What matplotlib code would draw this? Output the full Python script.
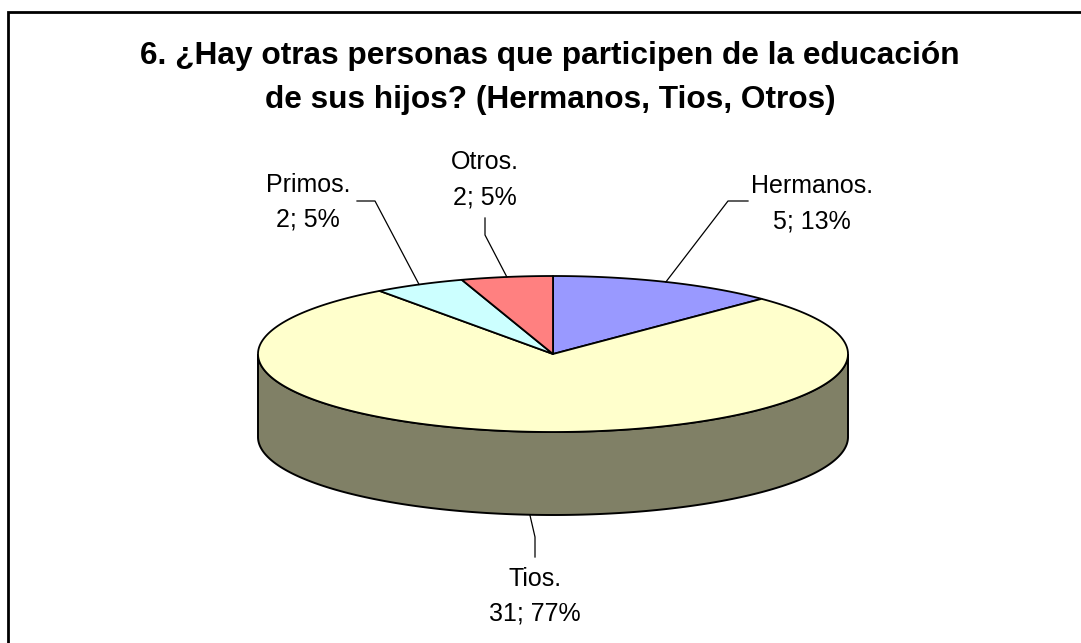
import numpy as np
import matplotlib.pyplot as plt
from matplotlib.patches import Polygon

plt.rcParams['font.family'] = ['Liberation Sans', 'DejaVu Sans']

# data (Excel 3D pie, clockwise from 12 o'clock)
categories = ['Hermanos.', 'Tios.', 'Primos.', 'Otros.']
values = [5, 31, 2, 2]
pct_labels = ['13%', '77%', '5%', '5%']
top_colors = ['#9999FF', '#FFFFCC', '#CCFFFF', '#FF8080']
side_colors = ['#4D4D80', '#808066', '#668080', '#804040']

title_lines = ['6. ¿Hay otras personas que participen de la educación',
               'de sus hijos? (Hermanos, Tios, Otros)']

# layout in pixel coords
W, H = 1081, 643
cx, cy, rx, ry, depth = 553, 354, 295, 78, 83
# label centre x, baseline of first and second line
label_pos = {'Hermanos.': (812, 193, 228), 'Tios.': (535, 586, 620),
             'Primos.': (308, 192, 227), 'Otros.': (485, 169, 204)}
elbow = {'Hermanos.': [(728, 201), (748, 201)],
         'Tios.': [(535, 537), (535, 557)],
         'Primos.': [(375, 201), (357, 201)],
         'Otros.': [(485, 235), (485, 218)]}

fig = plt.figure(figsize=(W / 100, H / 100), dpi=100)
ax = fig.add_axes([0, 0, 1, 1])
ax.set_xlim(0, W)
ax.set_ylim(H, 0)
ax.axis('off')


def ell(theta, dy=0.0):
    # theta in degrees, clockwise from top
    t = np.radians(theta)
    return cx + rx * np.sin(t), cy - ry * np.cos(t) + dy


fracs = np.array(values) / np.sum(values)
starts = np.concatenate([[0], np.cumsum(fracs)[:-1]]) * 360
ends = np.cumsum(fracs) * 360

# side walls (only the front half, 90..270 deg, is visible)
for i in range(len(values)):
    a0, a1 = max(starts[i], 90), min(ends[i], 270)
    if a1 <= a0:
        continue
    th = np.linspace(a0, a1, 200)
    xs, ys = ell(th)
    xb, yb = ell(th[::-1], depth)
    pts = np.column_stack([np.concatenate([xs, xb]), np.concatenate([ys, yb])])
    ax.add_patch(Polygon(pts, closed=True, facecolor=side_colors[i],
                         edgecolor='black', lw=1.4, zorder=1))

# top face slices
for i in range(len(values)):
    th = np.linspace(starts[i], ends[i], 300)
    xs, ys = ell(th)
    pts = np.column_stack([np.concatenate([[cx], xs]), np.concatenate([[cy], ys])])
    ax.add_patch(Polygon(pts, closed=True, facecolor=top_colors[i],
                         edgecolor='black', lw=1.3, joinstyle='round', zorder=2))

# labels and leader lines
for i, name in enumerate(categories):
    mid = (starts[i] + ends[i]) / 2
    if 90 < mid < 270:
        x0, y0 = ell(mid, depth)
    else:
        x0, y0 = ell(mid)
    path = [(x0, y0)] + elbow[name]
    ax.plot([p[0] for p in path], [p[1] for p in path], color='black', lw=0.9, zorder=3)
    lx, b1, b2 = label_pos[name]
    ax.text(lx, b1, name, ha='center', va='baseline', fontsize=18, zorder=4)
    ax.text(lx, b2, f'{values[i]}; {pct_labels[i]}', ha='center', va='baseline',
            fontsize=18, zorder=4)

ax.text(550, 64, title_lines[0], ha='center', va='baseline', fontsize=22.8,
        fontweight='bold')
ax.text(550, 108, title_lines[1], ha='center', va='baseline', fontsize=22.8,
        fontweight='bold')

# chart-area border (right and bottom cut off)
ax.plot([8, 8, W + 5], [H + 5, 12, 12], color='black', lw=2.0, solid_joinstyle='miter',
        zorder=5)

fig.savefig('out.png', dpi=100)
